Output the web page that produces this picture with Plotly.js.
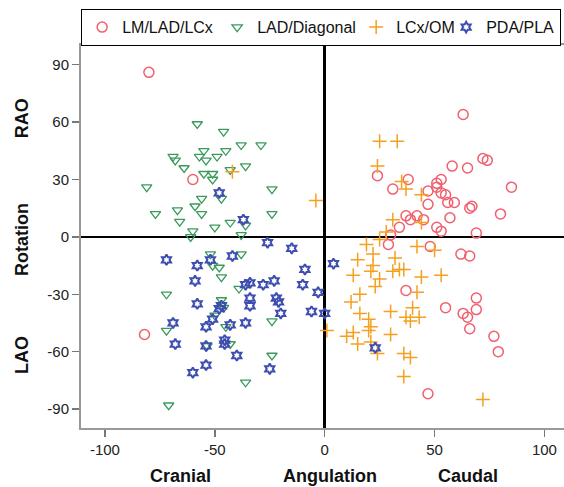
<!DOCTYPE html>
<html>
<head>
<meta charset="utf-8">
<script src="https://cdn.plot.ly/plotly-3.0.1.min.js"></script>
<style>html,body{margin:0;padding:0;background:#fff;}#chart{width:564px;height:487px;}</style>
</head>
<body>
<div id="chart"></div>
<script>
// Angulation (x) and Rotation (y), degrees
const lmX = [-80,-60,-82,63,72,74,58,65,24,38,31,85,51,53,47,51,53,55,56,59,47,66,67,80,37,42,39,45,57,34,51,53,69,30,29,48,62,66,37,69,55,69,63,65,66,77,79,47];
const lmY = [86,30,-51,64,41,40,37,36,32,30,25,26,28,30,24,26,23,22,18,18,17,15,16,12,11,11,9,9,10,5,5,3,2,1,-4,-5,-9,-10,-28,-32,-37,-38,-40,-42,-48,-52,-60,-82];

const ladX = [-58,-46,-38,-29,-55,-45,-69,-57,-49,-68,-54,-64,-36,-43,-55,-51,-51,-81,-24,-56,-47,-59,-67,-77,-56,-24,-66,-43,-36,-50,-60,-38,-61,-52,-38,-51,-48,-47,-39,-72,-47,-46,-50,-24,-45,-72,-43,-53.5,-24,-36,-71];
const ladY = [59,55,48,48,45,45,42,42,42,40,40,36,37,35,33,33,30,26,25,20,20,16,14,12,12,12,8,7.5,6,5,3,1,0,-9,-9,-15,-16,-21,-27,-30,-33,-37,-41,-44,-47,-49,-56,-57,-62,-76,-88];

const lcxX = [-42,-4,25,33,24,35,37,44,31,44,28,25,19,42,50,22,32,15,22,13,21,31,34,36,25,44,53,23,16,42,12,16,30,40,20,37,39,43,21,20,1,13,10,30,21,15,24,36,39,36,72];
const lcxY = [34,19,50,50,37,29,25,22,9,7.5,2.6,-1.4,-4,-5,-7,-9,-11,-12,-15,-20,-18,-18,-17,-17,-22,-21,-20,-26,-30,-29,-34,-40,-39,-37,-43,-42,-44,-42,-47,-49,-49,-50,-52,-51,-55,-56,-61,-61,-63,-73,-85];

const pdaX = [-48,-37,-26,-15,-72,-58,-52,-42,-9,-59,-36,-34,-28,-23,-10,-3,-58,-47,-48,-34,-34,-22,-21,-20,-6,0,-51,-69,-54,-43,-36,-68,-54,-45.5,-45.5,-40,-54,-60,-25,4,23];
const pdaY = [23,9,-3,-6,-12,-15,-12,-10,-17,-23,-25,-24,-25,-23,-25,-29,-35,-36,-37.5,-32,-36,-32,-34,-40,-39,-40,-43,-45,-47,-46,-45,-56,-57,-54,-56,-62,-67,-71,-69,-14,-58];

const seriesNames = ['LM/LAD/LCx','LAD/Diagonal','LCx/OM','PDA/PLA'];
const xTicks = [-100,-50,0,50,100];
const xTickText = ['-100','-50','0','50','100'];
const yTicks = [-90,-60,-30,0,30,60,90];
const yTickText = ['-90','-60','-30','0','30','60','90'];

const FONT = 'Liberation Sans, Arial, Helvetica, sans-serif';

const traces = [
  {x: lmX, y: lmY, name: seriesNames[0], type: 'scatter', mode: 'markers', legendwidth: 90,
   marker: {symbol: 'circle-open', size: 10, color: '#f0606e', line: {width: 1.5}}},
  {x: ladX, y: ladY, name: seriesNames[1], type: 'scatter', mode: 'markers', legendwidth: 94,
   marker: {symbol: 'triangle-down-open', size: 9, color: '#3a9a5c', line: {width: 1.3}}},
  {x: lcxX, y: lcxY, name: seriesNames[2], type: 'scatter', mode: 'markers', legendwidth: 45,
   marker: {symbol: 'cross-thin-open', size: 10, color: '#f5a020', line: {width: 1.5}}},
  {x: pdaX, y: pdaY, name: seriesNames[3], type: 'scatter', mode: 'markers',
   marker: {symbol: 'hexagram-open', size: 8, color: '#3e4db0', line: {width: 2}}}
];

const axisCommon = {
  showgrid: false,
  zeroline: true, zerolinecolor: '#000', zerolinewidth: 2.5,
  showline: true, linecolor: '#999', linewidth: 2,
  ticks: 'outside', ticklen: 7, tickwidth: 1.5, tickcolor: '#777',
  tickfont: {family: FONT, size: 15, color: '#222'},
  fixedrange: true
};

const titleFont = {family: FONT, size: 18, color: '#111'};
function label(text, x, y, angle) {
  return {text: '<b>' + text + '</b>', xref: 'paper', yref: 'paper', x: x, y: y,
          xanchor: 'center', yanchor: 'middle', textangle: angle || 0,
          showarrow: false, font: titleFont};
}

const layout = {
  width: 564, height: 487,
  margin: {l: 81, r: 0, t: 45, b: 59, pad: 0},
  paper_bgcolor: '#fff', plot_bgcolor: '#fff',
  font: {family: FONT},
  xaxis: Object.assign({}, axisCommon, {range: [-110.9, 108.9], tickvals: xTicks, ticktext: xTickText, mirror: true}),
  yaxis: Object.assign({}, axisCommon, {range: [-99.9, 100.3], tickvals: yTicks, ticktext: yTickText, mirror: false}),
  showlegend: true,
  legend: {orientation: 'h', x: -0.0001, xanchor: 'left', y: 1.094, yanchor: 'top',
           bordercolor: '#000', borderwidth: 1.2, bgcolor: '#fff',
           font: {family: FONT, size: 16, color: '#111'}, itemwidth: 30},
  annotations: [
    label('Rotation', -0.122, 0.491, -90),
    label('RAO', -0.122, 0.809, -90),
    label('LAO', -0.122, 0.191, -90),
    label('Cranial', 0.205, -0.1253),
    label('Angulation', 0.516, -0.1253),
    label('Caudal', 0.801, -0.1253)
  ]
};

Plotly.newPlot('chart', traces, layout, {displayModeBar: false, staticPlot: true});
</script>
</body>
</html>
